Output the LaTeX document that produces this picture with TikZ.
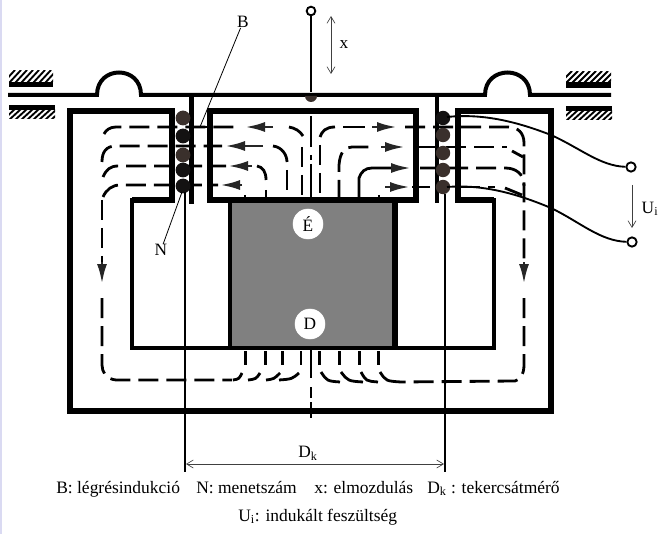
\documentclass[tikz,border=0pt]{standalone}
\usepackage{fontspec}
\usepackage{amsmath}
\setmainfont{Liberation Serif}
\usetikzlibrary{arrows.meta}

\definecolor{coilbrown}{HTML}{3A302C}
\definecolor{coilblack}{HTML}{141212}
\definecolor{sidelav}{HTML}{DADAF2}

\tikzset{
  coreline/.style={line width=4.1pt,line join=miter},
  innerline/.style={line width=3.2pt,line join=miter},
  plateline/.style={line width=3pt},
  sleeve/.style={line width=3.2pt},
  thinwire/.style={line width=1.4pt},
  flux/.style={line width=2.1pt,dash pattern=on 15pt off 6pt},
  fluxsolid/.style={line width=2.1pt},
  fluxtip/.style={line width=2.1pt,color=black!85,-{Latex[length=15pt,width=7.5pt]}},
  thinarrow/.style={line width=0.5pt,color=black!75,{Straight Barb[length=5pt,width=6pt]}-{Straight Barb[length=5pt,width=6pt]}},
  lbl/.style={font=\fontsize{13}{15}\selectfont,inner sep=0pt},
  caption/.style={font=\fontsize{13.1}{15}\selectfont,inner sep=0pt,anchor=base west},
  hole/.style={circle,draw=white,fill=white,inner sep=0pt,minimum size=22.5pt,font=\fontsize{13}{15}\selectfont},
  terminal/.style={circle,draw,line width=1.4pt,fill=white,inner sep=0pt,minimum size=7pt}
}

\begin{document}
\begin{tikzpicture}[x=0.75pt,y=-0.75pt]
\useasboundingbox (0,0) rectangle (666,534);
\fill[sidelav] (0,0) rectangle (2,534);

% fixed stops and the moving plate
\foreach \xa/\xb/\ya/\yb/\ba/\bb in {9/53/71/82/82/87, 9/55/110/119/105/110, 566/611/72/82/82/88, 566/612/111/120/106/111} {
\fill (\xa,\ba) rectangle (\xb,\bb);
\begin{scope}
\clip (\xa,\ya) rectangle (\xb,\yb);
\foreach \h in {0,6,...,60} {
\draw[line width=1.4pt] (\xa-6+\h,\yb+1) -- (\xa+6+\h,\ya-1);
}
\end{scope}
}
\draw[plateline] (8,95) -- (97,95) .. controls (97,65) and (141,65) .. (141,95) -- (485,95)
  .. controls (485,65) and (530,65) .. (530,95) -- (611,95);

% rod
\coordinate (rodbase) at (311,92);
\node[terminal,minimum size=6.5pt] (rodtop) at (311,11) {};
\draw[line width=1.6pt] (rodtop) -- (rodbase);
\fill[coilbrown] (305,96) arc[start angle=180,end angle=0,radius=6] -- cycle;
\draw[thinarrow] (331,16) -- (331,74);
\node[lbl] (labelx) at (344,45) {x};

% core
\fill[black!50] (230,200) rectangle (395,348);
\draw[coreline] (132,200) -- (172,200) -- (172,111) -- (70,111) -- (70,411) -- (551,411) -- (551,111) -- (458,111) -- (458,200) -- (494,200);
\draw[innerline] (132,198) -- (132,348) -- (494,348) -- (494,198);
\draw[coreline] (210,200) -- (210,111) -- (416,111) -- (416,200) -- cycle;
\draw[innerline] (230,200) -- (230,348);
\draw[coreline] (395,200) -- (395,348);
\node[hole] (labelE) at (308,224) {É};
\node[hole] (labelD) at (310,324) {D};

% centre line
\foreach \ya/\yb in {116/147,155/160,164/200,350/378,387/398,402/418} {
\draw[line width=1.7pt] (311,\ya) -- (311,\yb);
}

% flux, left half
\draw[flux] (104,134) .. controls (106,130) and (110,127) .. (116,127) -- (238,127);
\draw[fluxtip] (273,127) -- (245,127);
\draw[fluxsolid] (289,127) .. controls (295,128) and (300,131) .. (303,136);
\draw[flux] (102,162) .. controls (102,152) and (106,146) .. (116,146) -- (222,146);
\draw[fluxtip] (263,146) -- (225,146);
\draw[fluxsolid] (273,146) .. controls (282,147) and (287,155) .. (287,162);
\draw[flux] (287,170) -- (287,198);
\draw[flux] (103,177) .. controls (106,170) and (110,166) .. (118,166) -- (226,166);
\draw[fluxtip] (252,166) -- (228,166);
\draw[fluxsolid] (257,166) .. controls (263,167) and (266,172) .. (266,180);
\draw[fluxsolid] (266,190) -- (266,200);
\draw[flux] (103,197) .. controls (106,190) and (112,185) .. (120,185) -- (218,185);
\draw[fluxtip] (242,185) -- (220,185);
\draw[flux] (302,147) -- (302,198);
\draw[flux] (320,145) -- (320,198);

% flux, right half
\draw[fluxsolid] (320,137) .. controls (322,131) and (326,127) .. (335,127);
\draw[fluxsolid] (343,127) -- (365,127);
\draw[fluxtip] (372,127) -- (397,127);
\draw[flux] (405,127) -- (508,127) .. controls (518,127) and (524,133) .. (524,143) -- (524,262);
\draw[flux] (339,200) -- (339,165) .. controls (340,152) and (345,147) .. (352,147) -- (376,147);
\draw[fluxtip] (381,147) -- (405,147);
\draw[flux] (418,147) -- (507,147);
\draw[fluxsolid] (512,151) -- (523,157);
\draw[fluxsolid] (359,200) -- (359,178) .. controls (361,172) and (365,168) .. (372,168) -- (392,168);
\draw[fluxtip] (392,168) -- (411,168);
\draw[flux] (420,168) -- (505,168) .. controls (515,168) and (524,173) .. (524,186);
\draw[fluxtip] (385,187) -- (410,187);
\draw[flux] (412,187) -- (430,187);
\draw[flux] (460,187) -- (495,187);
\draw[fluxsolid] (505,188) -- (522,195);
\foreach \x in {245,379} {
\draw[fluxsolid] (\x,195) -- (\x,200);
}

% flux, return path
\draw[flux] (102,200) -- (102,262);
\draw[fluxtip] (102,262) -- (102,284);
\draw[fluxtip] (524,262) -- (524,284);
\draw[flux] (102,298) -- (102,365) .. controls (102,372) and (106,379) .. (116,380) -- (232,380);
\draw[flux] (524,298) -- (524,365) .. controls (524,374) and (520,380) .. (515,381) -- (401,382);
\foreach \x in {245.5,265.5,282.5,301,319.5,339.5,359.5,378.5} {
\draw[fluxsolid] (\x,351) -- (\x,365);
}
\foreach \xa/\xb/\xc in {242/239/233,260/256/248,280/274/266,299/292/279} {
\draw[fluxsolid] (\xa,373) .. controls (\xb,379) .. (\xc,380);
}
\foreach \xa/\xb/\xc in {321/327/340,341/348/363,361/366/378,380/386/401} {
\draw[fluxsolid] (\xa,372) .. controls (\xb,381) .. (\xc,382);
}

% sleeve and coil
\draw[sleeve] (191.5,95) -- (191.5,204);
\draw[sleeve] (437,95) -- (437,203);
\foreach \y/\c in {118/coilbrown,136/coilblack,155/coilbrown,170/coilblack,186/coilblack} {
\fill[\c] (183,\y) circle[radius=7.4];
}
\foreach \y/\c in {118/coilblack,135/coilbrown,153/coilbrown,170/coilbrown,187/coilbrown} {
\fill[\c] (443,\y) circle[radius=7.2];
}

% coil diameter
\draw[line width=1.5pt] (185,192) -- (185,472);
\draw[line width=1.5pt] (445,194) -- (445,472);
\coordinate (dkleft) at (186,464);
\coordinate (dkright) at (444,464);
\draw[thinarrow] (dkleft) -- (dkright);
\node[lbl] (labelDk) at (308,453) {D$_{\mathrm{k}}$};

% leaders
\node[lbl] (labelB) at (243,22) {B};
\node[lbl] (labelN) at (161,250) {N};
\coordinate (gapB) at (200,127);
\coordinate (coilN) at (182,192);
\draw[line width=0.6pt] (labelB) -- (gapB);
\draw[line width=0.9pt] (193,127) -- (208,127);
\draw[line width=0.6pt] (labelN) -- (coilN);

% output wires
\coordinate (wireA) at (447,117);
\coordinate (wireB) at (447,187);
\node[terminal] (termA) at (631,167) {};
\node[terminal] (termB) at (632,242) {};
\draw[thinwire] (wireA) .. controls (485,113) and (520,123) .. (551,135) .. controls (580,148) and (600,166) .. (termA);
\draw[thinwire] (wireB) .. controls (485,184) and (520,195) .. (551,208) .. controls (580,222) and (600,241) .. (termB);
\draw[line width=0.5pt,color=black!75,-{Straight Barb[length=5pt,width=6pt]}] (632,185) -- (632,228);
\node[lbl] (labelU) at (650,209) {U$_{\mathrm{i}}$};

% caption
\node[caption] (capB) at (56,493) {B: légrésindukció};
\node[caption] (capN) at (196,493) {N: menetszám};
\node[caption] (capx) at (314,493) {x: elmozdulás};
\node[caption] (capD) at (427,493) {D$_{\mathrm{k}}$ : tekercsátmérő};
\node[caption] (capU) at (238,521) {U$_{\mathrm{i}}$: indukált feszültség};
\end{tikzpicture}
\end{document}
